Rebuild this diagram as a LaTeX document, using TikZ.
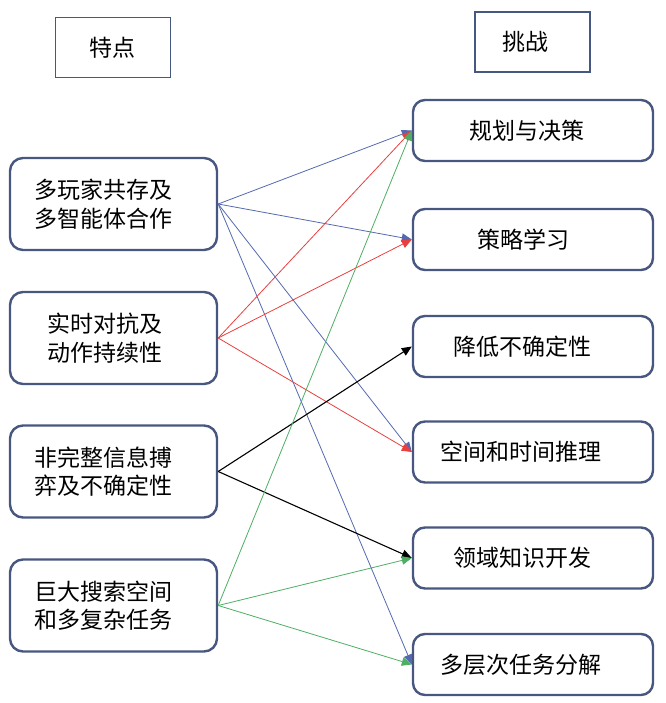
\documentclass[tikz,border=0pt]{standalone}
\usepackage{fontspec}
\setmainfont{Noto Sans CJK SC}
\usetikzlibrary{arrows.meta}
\definecolor{boxline}{HTML}{485780}
\definecolor{lnblue}{HTML}{5469B0}
\definecolor{lnred}{HTML}{E8403F}
\definecolor{lngreen}{HTML}{4EAE64}

\begin{document}
\begin{tikzpicture}[x=1pt, y=-1pt,
  txt/.style={align=center, inner sep=0pt, font=\fontsize{23}{28.5}\selectfont},
  head/.style={draw=boxline, line width=1.4pt, minimum width=115pt, minimum height=60pt},
  feat/.style={draw=boxline, line width=2.4pt, rounded corners=13pt, minimum width=207pt, minimum height=92pt},
  chal/.style={draw=boxline, line width=2.4pt, rounded corners=12pt, minimum width=240pt, minimum height=61pt},
  link/.style={line width=0.8pt, -{Triangle[length=10pt,width=8.5pt]}}]
  \useasboundingbox (0,0) rectangle (665,703);
  \node[head] (h1) at (113,47.5) {};
  \node[txt] (h1t) at (112,47.5) {特点};
  \node[head] (h2) at (532.5,42) {};
  \node[txt] (h2t) at (525.5,42) {挑战};

  \node[feat] (f1) at (113.5,204) {};
  \node[txt] (f1t) at (103,204) {多玩家共存及\\多智能体合作};
  \node[feat] (f2) at (113.5,338) {};
  \node[txt] (f2t) at (104.5,338) {实时对抗及\\动作持续性};
  \node[feat] (f3) at (113.5,471.5) {};
  \node[txt] (f3t) at (103,471.5) {非完整信息搏\\弈及不确定性};
  \node[feat] (f4) at (113.5,605.5) {};
  \node[txt] (f4t) at (103,605.5) {巨大搜索空间\\和多复杂任务};

  \node[chal] (c1) at (533,130.5) {};
  \node[txt] (c1t) at (526.5,130.5) {规划与决策};
  \node[chal] (c2) at (533,239.5) {};
  \node[txt] (c2t) at (523,239.5) {策略学习};
  \node[chal] (c3) at (533,346.5) {};
  \node[txt] (c3t) at (522.5,346.5) {降低不确定性};
  \node[chal] (c4) at (533,452) {};
  \node[txt] (c4t) at (520.5,452) {空间和时间推理};
  \node[chal] (c5) at (533,558) {};
  \node[txt] (c5t) at (522.5,558) {领域知识开发};
  \node[chal] (c6) at (533,664.5) {};
  \node[txt] (c6t) at (520.5,664.5) {多层次任务分解};

  \draw[link, lnblue] (f1.east) -- (c1.west);
  \draw[link, lnblue] (f1.east) -- (c2.west);
  \draw[link, lnblue] (f1.east) -- (c4.west);
  \draw[link, lnblue] (f1.east) -- (c6.west);
  \draw[link, lnred] (f2.east) -- (c1.west);
  \draw[link, lnred] (f2.east) -- (c2.west);
  \draw[link, lnred] (f2.east) -- (c4.west);
  \draw[link, black, line width=1.1pt] (f3.east) -- (c3.west);
  \draw[link, black, line width=1.1pt] (f3.east) -- (c5.west);
  \draw[link, lngreen] (f4.east) -- (c1.west);
  \draw[link, lngreen] (f4.east) -- (c5.west);
  \draw[link, lngreen] (f4.east) -- (c6.west);
\end{tikzpicture}
\end{document}
